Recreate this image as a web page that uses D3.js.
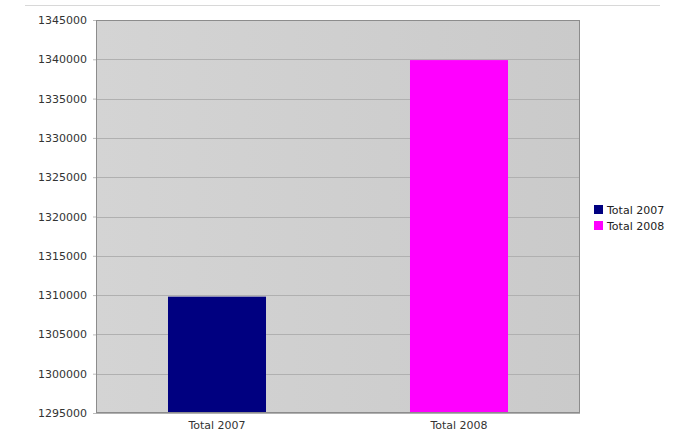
<!DOCTYPE html>
<html>
<head>
<meta charset="utf-8">
<script src="https://cdn.jsdelivr.net/npm/d3@7"></script>
<style>
  body { margin: 0; background: #fff; }
  svg { display: block; font-family: "DejaVu Sans", Verdana, sans-serif; }
</style>
</head>
<body>
<svg width="694" height="434"></svg>
<script>
let categories = ["Total 2007", "Total 2008"]
let values = [1309800, 1339900]
let colors = ["#000080", "#ff00ff"]
let yTicks = [1295000, 1300000, 1305000, 1310000, 1315000, 1320000, 1325000, 1330000, 1335000, 1340000, 1345000]

let svg = d3.select("svg"),
    marginLeft = 96, marginTop = 20,
    width = 484, height = 393;

// faint rule across the top
svg.append("line")
    .attr("x1", 25).attr("x2", 660)
    .attr("y1", 5.5).attr("y2", 5.5)
    .attr("stroke", "#d8d8d8");

let defs = svg.append("defs");
let grad = defs.append("linearGradient").attr("id", "bg").attr("x1", 0).attr("x2", 1).attr("y1", 0).attr("y2", 0);
grad.append("stop").attr("offset", "0%").attr("stop-color", "#d4d4d4");
grad.append("stop").attr("offset", "100%").attr("stop-color", "#cacaca");

let xScale = d3.scaleBand().domain(categories).range([0, width]).paddingInner(0.595).paddingOuter(0.2975),
    yScale = d3.scaleLinear().domain([1295000, 1345000]).range([height, 0]);

let g = svg.append("g").attr("transform", "translate(" + marginLeft + "," + marginTop + ")");

g.append("rect")
    .attr("width", width).attr("height", height)
    .attr("fill", "url(#bg)");

// grid
g.append("g")
    .selectAll("line")
    .data(yTicks)
    .enter().append("line")
    .attr("x1", 0).attr("x2", width)
    .attr("y1", function (d) { return Math.round(yScale(d)) + 0.5; })
    .attr("y2", function (d) { return Math.round(yScale(d)) + 0.5; })
    .attr("stroke", "#b0b0b0");

g.selectAll(".bar")
    .data(values)
    .enter().append("rect")
    .attr("class", "bar")
    .attr("x", function (d, i) { return xScale(categories[i]); })
    .attr("y", function (d) { return yScale(d); })
    .attr("width", xScale.bandwidth())
    .attr("height", function (d) { return height - yScale(d); })
    .attr("fill", function (d, i) { return colors[i]; });

// frame
g.append("rect")
    .attr("x", 0.5).attr("y", 0.5)
    .attr("width", width - 1).attr("height", height - 1)
    .attr("fill", "none").attr("stroke", "#8c8c8c");

let yAxis = g.append("g")
    .call(d3.axisLeft(yScale).tickValues(yTicks).tickFormat(d3.format("d")).tickSize(3).tickPadding(6))
    .attr("font-family", "DejaVu Sans, sans-serif")
    .attr("font-size", 11);
yAxis.select(".domain").remove();
yAxis.selectAll("line").attr("stroke", "#bbb");
yAxis.selectAll("text").attr("fill", "#333");

let xAxis = g.append("g")
    .attr("transform", "translate(0," + height + ")")
    .call(d3.axisBottom(xScale).tickSize(0).tickPadding(8))
    .attr("font-family", "DejaVu Sans, sans-serif")
    .attr("font-size", 11);
xAxis.select(".domain").remove();
xAxis.selectAll("text").attr("fill", "#333");

// legend
let legend = svg.append("g").attr("transform", "translate(594,205)");
let items = legend.selectAll("g")
    .data(categories)
    .enter().append("g")
    .attr("transform", function (d, i) { return "translate(0," + (i * 16) + ")"; });
items.append("rect")
    .attr("width", 9).attr("height", 9)
    .attr("fill", function (d, i) { return colors[i]; });
items.append("text")
    .attr("x", 13).attr("y", 9)
    .attr("fill", "#222")
    .style("font-size", "11px")
    .text(function (d) { return d; });
</script>
</body>
</html>
